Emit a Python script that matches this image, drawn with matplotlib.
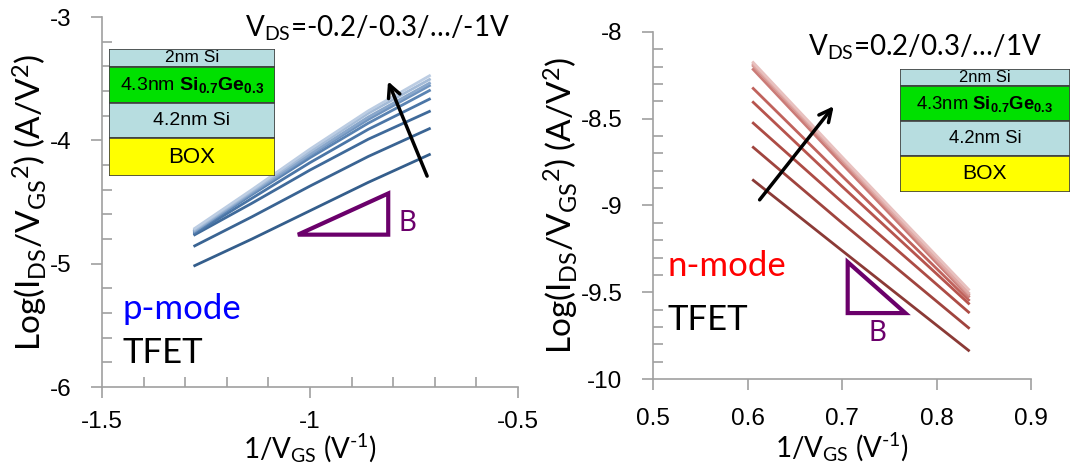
import matplotlib
matplotlib.use('Agg')
import matplotlib.pyplot as plt
from matplotlib.patches import Rectangle, Polygon
from matplotlib.ticker import MultipleLocator

plt.rcParams['font.family'] = ['Lato', 'DejaVu Sans']
plt.rcParams['mathtext.fontset'] = 'custom'
plt.rcParams['mathtext.rm'] = 'Lato'
plt.rcParams['mathtext.it'] = 'Lato:italic'
plt.rcParams['mathtext.bf'] = 'Liberation Sans:bold'

# p-mode data (1/VGS vs log(IDS/VGS^2)), VDS = -0.2 ... -1 V
p_x = [-1.28, -1.14, -1.0, -0.86, -0.71]
p_y = [
    [-5.02, -4.80, -4.57, -4.34, -4.11],
    [-4.86, -4.62, -4.37, -4.13, -3.90],
    [-4.77, -4.51, -4.24, -3.99, -3.76],
    [-4.76, -4.47, -4.18, -3.91, -3.66],
    [-4.75, -4.44, -4.14, -3.86, -3.59],
    [-4.74, -4.43, -4.12, -3.83, -3.55],
    [-4.74, -4.42, -4.11, -3.81, -3.53],
    [-4.73, -4.41, -4.09, -3.78, -3.50],
    [-4.72, -4.40, -4.07, -3.76, -3.47],
]
p_colors = ['#345E8C', '#3A6493', '#3F6A9A', '#4A75A6', '#5A83B2', '#7094BF',
            '#89A7CB', '#A4BBD7', '#BCCDE3']

# n-mode data, VDS = 0.2 ... 1 V
n_x = [0.605, 0.70, 0.835]
n_y = [
    [-8.85, -9.26, -9.84],
    [-8.66, -9.10, -9.71],
    [-8.52, -8.98, -9.62],
    [-8.40, -8.89, -9.57],
    [-8.32, -8.83, -9.55],
    [-8.21, -8.76, -9.53],
    [-8.19, -8.74, -9.52],
    [-8.18, -8.73, -9.51],
    [-8.17, -8.72, -9.49],
]
n_colors = ['#8B3A36', '#A0443E', '#AD4C45', '#B7544D', '#C0625C', '#CB7B77',
            '#D6948F', '#E0ABA8', '#E8C1BF']

layers = ['2nm Si', r'4.3nm $\mathbf{Si_{0.7}Ge_{0.3}}$', '4.2nm Si', 'BOX']
layer_colors = ['#B7DDE0', '#00E000', '#B7DDE0', '#FFFF00']
layer_heights = [0.5, 1.0, 1.0, 1.05]
layer_sizes = [12.5, 14, 14, 16]

fig = plt.figure(figsize=(10.71, 4.63), dpi=100)
ax1 = fig.add_axes([0.0952, 0.164, 0.3885, 0.799])
ax2 = fig.add_axes([0.6097, 0.1814, 0.353, 0.7496])

tick_font = {'family': 'Liberation Sans', 'size': 17.5}

def style(ax, xpad):
    for s in ['top', 'right']:
        ax.spines[s].set_visible(False)
    for s in ['left', 'bottom']:
        ax.spines[s].set_color('#A0A0A0')
        ax.spines[s].set_linewidth(1.2)
    ax.tick_params(which='both', color='#A0A0A0', width=1.2)
    ax.tick_params(which='major', direction='out', length=8)
    ax.tick_params(axis='y', which='major', pad=14)
    ax.tick_params(axis='x', which='major', pad=xpad)
    ax.tick_params(which='minor', direction='in', length=7)
    for lab in ax.get_xticklabels() + ax.get_yticklabels():
        lab.set_fontproperties(tick_font)

ylab = r'Log(I$_{\rm DS}$/V$_{\rm GS}$$^{2}$) (A/V$^{2}$)'
xlab = r'1/V$_{\rm GS}$ (V$^{\text{-1}}$)'

# left panel
for ys, c in zip(p_y, p_colors):
    ax1.plot(p_x, ys, color=c, lw=2.0, solid_capstyle='butt')
ax1.set_xlim(-1.5, -0.5)
ax1.set_ylim(-6, -3)
ax1.set_xticks([-1.5, -1, -0.5])
ax1.set_xticklabels(['-1.5', '-1', '-0.5'])
ax1.set_yticks([-6, -5, -4, -3])
ax1.set_yticklabels(['-6', '-5', '-4', '-3'])
ax1.xaxis.set_minor_locator(MultipleLocator(0.1))
ax1.yaxis.set_minor_locator(MultipleLocator(0.2))
style(ax1, 9)
ax1.set_ylabel(ylab, fontsize=24, labelpad=0)
ax1.set_xlabel(xlab, fontsize=20)
ax1.xaxis.set_label_coords(0.5, -0.122)
ax1.annotate('', xy=(-0.815, -3.50), xytext=(-0.716, -4.31),
             arrowprops=dict(arrowstyle='->', color='black', lw=2.5, mutation_scale=22))
ax1.add_patch(Polygon([(-1.029, -4.764), (-0.812, -4.764), (-0.812, -4.43)],
                      closed=True, fill=False, edgecolor='#6B006B', lw=3))
ax1.text(-0.767, -4.67, 'B', color='#6B006B', fontsize=20, ha='center', va='center')
ax1.text(-1.45, -5.37, 'p-mode', color='#0000FF', fontsize=25, ha='left', va='center')
ax1.text(-1.45, -5.72, 'TFET', color='black', fontsize=25, ha='left', va='center')
fig.text(0.352, 0.938, r'V$_{\rm DS}$=-0.2/-0.3/…/-1V', fontsize=20, ha='center', va='center')

# right panel
for ys, c in zip(n_y, n_colors):
    ax2.plot(n_x, ys, color=c, lw=2.0, solid_capstyle='butt')
ax2.set_xlim(0.5, 0.9)
ax2.set_ylim(-10, -8)
ax2.set_xticks([0.5, 0.6, 0.7, 0.8, 0.9])
ax2.set_xticklabels(['0.5', '0.6', '0.7', '0.8', '0.9'])
ax2.set_yticks([-10, -9.5, -9, -8.5, -8])
ax2.set_yticklabels(['-10', '-9.5', '-9', '-8.5', '-8'])
ax2.yaxis.set_minor_locator(MultipleLocator(0.1))
style(ax2, 13)
ax2.set_ylabel(ylab, fontsize=24, labelpad=0)
ax2.set_xlabel(xlab, fontsize=20)
ax2.xaxis.set_label_coords(0.5, -0.148)
ax2.annotate('', xy=(0.693, -8.415), xytext=(0.611, -8.98),
             arrowprops=dict(arrowstyle='->', color='black', lw=2.5, mutation_scale=22))
ax2.add_patch(Polygon([(0.706, -9.326), (0.706, -9.62), (0.767, -9.62)],
                      closed=True, fill=False, edgecolor='#6B006B', lw=3))
ax2.text(0.737, -9.735, 'B', color='#6B006B', fontsize=20, ha='center', va='center')
ax2.text(0.515, -9.35, 'n-mode', color='#FF0000', fontsize=25, ha='left', va='center')
ax2.text(0.515, -9.66, 'TFET', color='black', fontsize=25, ha='left', va='center')
fig.text(0.864, 0.898, r'V$_{\rm DS}$=0.2/0.3/…/1V', fontsize=20, ha='center', va='center')

# layer stack insets
def stack(rect, scale):
    sax = fig.add_axes(rect)
    sax.set_xlim(0, 1)
    total = sum(layer_heights)
    sax.set_ylim(0, total)
    sax.axis('off')
    top = total
    for name, c, h, fs in zip(layers, layer_colors, layer_heights, layer_sizes):
        sax.add_patch(Rectangle((0, top - h), 1, h, facecolor=c, edgecolor='#404040', lw=1.2))
        sax.text(0.5, top - h / 2, name, ha='center', va='center',
                 fontsize=fs * scale, family='Liberation Sans')
        top -= h

stack([109 / 1071, 1 - 176 / 463, 166 / 1071, 127 / 463], 1.0)
stack([900 / 1071, 1 - 192 / 463, 170 / 1071, 123 / 463], 0.95)

fig.savefig('out.png', dpi=100)
